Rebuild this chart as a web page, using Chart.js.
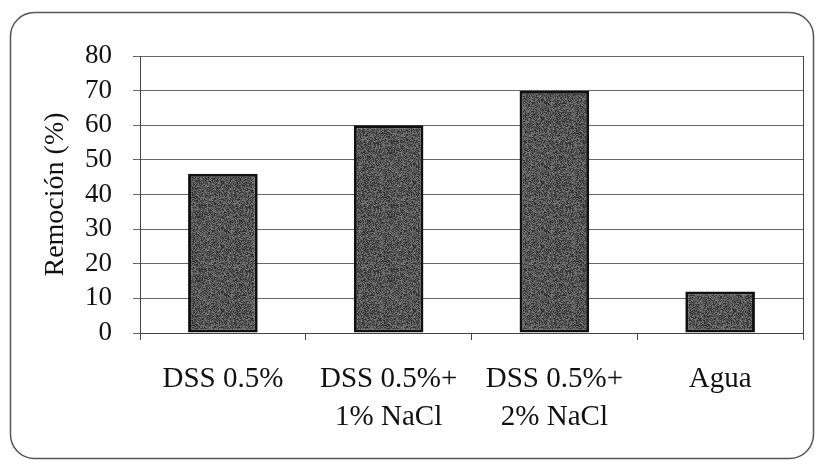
<!DOCTYPE html>
<html>
<head>
<meta charset="utf-8">
<script src="https://cdn.jsdelivr.net/npm/chart.js@4"></script>
<style>
  html, body { margin: 0; padding: 0; background: #ffffff; }
  #wrap { position: relative; width: 816px; height: 461px; }
</style>
</head>
<body>
<div id="wrap"><canvas id="chart" width="816" height="461"></canvas></div>
<script>
// Treatments on the x axis (multi-line labels)
const categories = [
  'DSS 0.5%',
  ['DSS 0.5%+', '1% NaCl'],
  ['DSS 0.5%+', '2% NaCl'],
  'Agua'
];
// Removal percentage for each treatment
const removal = [46, 60, 70, 12];
// Y axis range
const yMin = 0;
const yMax = 80;
const yStep = 10;

const SERIF = '"Liberation Serif", "Times New Roman", serif';

// Speckled dark-grey fill for the bars (deterministic hash noise)
function makeSpeckle() {
  const c = document.createElement('canvas');
  c.width = 64; c.height = 64;
  const g = c.getContext('2d');
  const img = g.createImageData(64, 64);
  for (let y = 0; y < 64; y++) {
    for (let x = 0; x < 64; x++) {
      const h = Math.sin(x * 12.9898 + y * 78.233) * 43758.5453;
      const n = h - Math.floor(h);
      const v = Math.round(40 + n * 85);
      const i = (y * 64 + x) * 4;
      img.data[i] = v; img.data[i + 1] = v; img.data[i + 2] = v; img.data[i + 3] = 255;
    }
  }
  g.putImageData(img, 0, 0);
  return g.createPattern(c, 'repeat');
}

// Rounded frame around the whole figure and right edge of the plot
const framePlugin = {
  id: 'frame',
  beforeDraw(chart) {
    const ctx = chart.ctx;
    ctx.save();
    ctx.fillStyle = '#ffffff';
    ctx.fillRect(0, 0, chart.width, chart.height);
    ctx.strokeStyle = '#555555';
    ctx.lineWidth = 1.5;
    ctx.beginPath();
    ctx.roundRect(10.5, 12.5, 803, 446, 24);
    ctx.stroke();
    ctx.restore();
  },
  afterDraw(chart) {
    const a = chart.chartArea;
    const ctx = chart.ctx;
    ctx.save();
    ctx.strokeStyle = '#444444';
    ctx.lineWidth = 1;
    ctx.beginPath();
    ctx.moveTo(Math.round(a.right) + 0.5, a.top);
    ctx.lineTo(Math.round(a.right) + 0.5, a.bottom);
    ctx.stroke();
    ctx.restore();
  }
};

new Chart(document.getElementById('chart'), {
  type: 'bar',
  data: {
    labels: categories,
    datasets: [{
      data: removal,
      backgroundColor: makeSpeckle(),
      borderColor: '#111111',
      borderWidth: 3,
      borderSkipped: false,
      categoryPercentage: 1.0,
      barPercentage: 0.42
    }]
  },
  options: {
    responsive: false,
    animation: false,
    layout: { padding: { left: 0, right: 13, top: 56, bottom: 0 } },
    plugins: {
      legend: { display: false },
      tooltip: { enabled: false }
    },
    scales: {
      x: {
        afterFit(scale) { scale.height = 128; },
        grid: {
          offset: true,
          drawOnChartArea: false,
          drawTicks: true,
          tickLength: 7,
          color: '#444444'
        },
        border: { display: true, color: '#444444', width: 1 },
        ticks: {
          color: '#111111',
          padding: 21,
          maxRotation: 0,
          autoSkip: false,
          font: { family: SERIF, size: 29, lineHeight: 1.3 }
        }
      },
      y: {
        min: yMin,
        max: yMax,
        afterFit(scale) { scale.width = 140; },
        grid: {
          color: '#666666',
          lineWidth: 1,
          drawTicks: true,
          tickLength: 7
        },
        border: { display: true, color: '#444444', width: 1 },
        ticks: {
          stepSize: yStep,
          autoSkip: false,
          color: '#111111',
          padding: 21,
          font: { family: SERIF, size: 27, lineHeight: 1.0 }
        },
        title: {
          display: true,
          text: 'Remoción (%)',
          color: '#111111',
          padding: { top: 39, bottom: 0 },
          font: { family: SERIF, size: 28, weight: 'normal' }
        }
      }
    }
  },
  plugins: [framePlugin]
});
</script>
</body>
</html>
